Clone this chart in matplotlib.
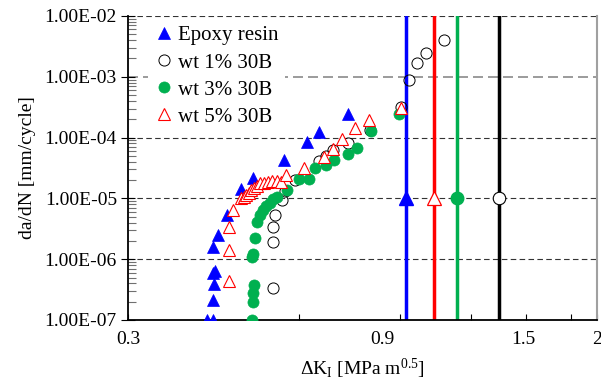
import matplotlib
matplotlib.use("Agg")
import matplotlib.pyplot as plt
import matplotlib.transforms as mtrans
from matplotlib.ticker import FixedLocator, FixedFormatter, LogLocator, NullFormatter

plt.rcParams['font.family'] = ['Liberation Serif', 'DejaVu Serif']
plt.rcParams['mathtext.fontset'] = 'custom'
plt.rcParams['mathtext.rm'] = 'Liberation Serif'
plt.rcParams['mathtext.it'] = 'Liberation Serif:italic'

# ---- data ----
epoxy_x = [0.413, 0.423, 0.423, 0.425, 0.423, 0.427, 0.423, 0.431, 0.448, 0.473, 0.497, 0.563, 0.619, 0.650, 0.730]
epoxy_y = [1e-7, 1e-7, 2.1e-7, 3.9e-7, 6.0e-7, 6.4e-7, 1.6e-6, 2.5e-6, 5.3e-6, 1.43e-5, 2.2e-5, 4.3e-5, 8.6e-5, 1.25e-4, 2.4e-4]

wt1_x = [0.540, 0.540, 0.540, 0.543, 0.560, 0.566, 0.590, 0.650, 0.667, 0.687, 0.729, 0.799, 0.904, 0.934, 0.967, 1.003, 1.077]
wt1_y = [3.4e-7, 1.95e-6, 3.4e-6, 5.3e-6, 9.4e-6, 1.3e-5, 1.97e-5, 4.1e-5, 5.0e-5, 6.25e-5, 8.2e-5, 1.33e-4, 3.15e-4, 8.9e-4, 1.67e-3, 2.5e-3, 4.1e-3]

wt3_x = [0.495, 0.497, 0.497, 0.499, 0.495, 0.497, 0.502, 0.506, 0.512, 0.518, 0.525, 0.532, 0.540, 0.548, 0.571, 0.598, 0.623, 0.640, 0.667, 0.689, 0.729, 0.758, 0.802, 0.897]
wt3_y = [1e-7, 1.98e-7, 2.83e-7, 3.77e-7, 1.09e-6, 1.24e-6, 2.23e-6, 4.1e-6, 5.3e-6, 6.4e-6, 7.5e-6, 8.5e-6, 9.7e-6, 1.07e-5, 1.35e-5, 2.1e-5, 2.1e-5, 3.16e-5, 3.54e-5, 4.28e-5, 5.4e-5, 6.7e-5, 1.3e-4, 2.4e-4]

wt5_x = [0.451, 0.451, 0.452, 0.458, 0.474, 0.479, 0.484, 0.489, 0.494, 0.500, 0.506, 0.512, 0.519, 0.528, 0.537, 0.548, 0.556, 0.569, 0.611, 0.664, 0.687, 0.713, 0.750, 0.795, 0.904]
wt5_y = [4.3e-7, 1.42e-6, 3.4e-6, 6.4e-6, 1.0e-5, 1.07e-5, 1.14e-5, 1.24e-5, 1.37e-5, 1.47e-5, 1.6e-5, 1.77e-5, 1.8e-5, 1.85e-5, 1.9e-5, 1.9e-5, 1.88e-5, 2.43e-5, 3.13e-5, 4.8e-5, 6.5e-5, 9.4e-5, 1.42e-4, 1.95e-4, 3.07e-4]

# threshold (vertical lines) values
thr_x = [0.925, 1.033, 1.134, 1.344]   # epoxy, 5%, 3%, 1%
thr_y = 1e-5

x_ticks = [0.3, 0.6, 0.9, 1.2, 1.5, 1.8, 2.0]
x_ticklabels = ['0.3', '', '0.9', '', '1.5', '', '2']
y_ticks = [1e-7, 1e-6, 1e-5, 1e-4, 1e-3, 1e-2]
y_ticklabels = ['1.00E-07', '1.00E-06', '1.00E-05', '1.00E-04', '1.00E-03', '1.00E-02']

BLUE = '#0000ff'
RED = '#ff0000'
GREEN = '#00b050'

fig = plt.figure(figsize=(6.01, 3.89), dpi=100)
ax = fig.add_axes([128/601, 1-320/389, (597-128)/601, (320-16)/389])
ax.set_xscale('log')
ax.set_yscale('log')
ax.set_xlim(0.3, 2.0)
ax.set_ylim(1e-7, 1e-2)

# grid lines
for yv in y_ticks[1:]:
    if yv == 1e-3:
        ax.axhline(yv, color='#8a8a8a', lw=1.2, ls=(0, (6, 3)), zorder=1)
    else:
        ax.axhline(yv, color='#333333', lw=0.8, ls=(0, (5, 3)), zorder=1)

# vertical lines
ax.axvline(thr_x[0], color=BLUE, lw=2.5, zorder=2)
ax.axvline(thr_x[1], color=RED, lw=2.5, zorder=2)
ax.axvline(thr_x[2], color=GREEN, lw=2.5, zorder=2)
ax.axvline(thr_x[3], color='black', lw=2.5, zorder=2)

ms_tri = 8.5
ms_cir = 8
ax.plot(epoxy_x, epoxy_y, ls='none', marker='^', ms=ms_tri, mfc=BLUE, mec=BLUE, mew=0.5, zorder=3, label='Epoxy resin')
ax.plot(wt1_x, wt1_y, ls='none', marker='o', ms=ms_cir, mfc='none', mec='black', mew=0.7, zorder=3, label='wt 1% 30B')
ax.plot(wt3_x, wt3_y, ls='none', marker='o', ms=ms_cir, mfc=GREEN, mec=GREEN, mew=0.5, zorder=4, label='wt 3% 30B')
ax.plot(wt5_x, wt5_y, ls='none', marker='^', ms=ms_tri, mfc='white', mec=RED, mew=0.8, zorder=5, label='wt 5% 30B')

# markers on the threshold lines
ax.plot([thr_x[0]], [thr_y], ls='none', marker='^', ms=ms_tri + 1, mfc=BLUE, mec=BLUE, zorder=6)
ax.plot([thr_x[1]], [thr_y], ls='none', marker='^', ms=ms_tri + 1, mfc='white', mec=RED, mew=0.9, zorder=6)
ax.plot([thr_x[2]], [thr_y], ls='none', marker='o', ms=ms_cir + 1, mfc=GREEN, mec=GREEN, zorder=6)
ax.plot([thr_x[3]], [thr_y], ls='none', marker='o', ms=ms_cir + 1, mfc='white', mec='black', mew=0.8, zorder=6)

# axes styling
ax.spines['top'].set_visible(False)
ax.spines['right'].set_color('#a0a0a0')
ax.spines['right'].set_linewidth(1.5)
ax.spines['left'].set_linewidth(1.3)
ax.spines['bottom'].set_linewidth(1.3)

ax.xaxis.set_major_locator(FixedLocator(x_ticks))
ax.xaxis.set_major_formatter(FixedFormatter(x_ticklabels))
ax.xaxis.set_minor_locator(FixedLocator([]))
ax.tick_params(axis='x', which='major', direction='in', length=4, width=0.8, labelsize=14, pad=8)

ax.yaxis.set_major_locator(FixedLocator(y_ticks))
ax.yaxis.set_major_formatter(FixedFormatter(y_ticklabels))
ax.yaxis.set_minor_locator(LogLocator(base=10, subs=range(2, 10)))
ax.yaxis.set_minor_formatter(NullFormatter())
ax.tick_params(axis='y', which='major', direction='inout', length=10, width=0.8, labelsize=14, pad=3)
ax.tick_params(axis='y', which='minor', direction='in', length=6, width=0.8, color='#707070')
ax.tick_params(right=False, top=False, which='both')

# slight horizontal offsets of some x tick labels as in the original
fig.canvas.draw()
shifts = {'0.9': -17, '1.5': -3}
for lbl in ax.get_xticklabels():
    s = shifts.get(lbl.get_text())
    if s:
        lbl.set_transform(lbl.get_transform() + mtrans.ScaledTranslation(s / 100, 0, fig.dpi_scale_trans))

ax.set_xlabel('ΔK$_{\\mathrm{I}}$ [MPa m$^{0.5}$]', fontsize=14, labelpad=6)
ax.set_ylabel('da/dN [mm/cycle]', fontsize=14, labelpad=6)

leg = ax.legend(loc='upper left', bbox_to_anchor=(0.042, 0.988), fontsize=15, frameon=True,
                facecolor='white', edgecolor='none', framealpha=1, numpoints=1,
                handlelength=1.0, handletextpad=0.15, labelspacing=0.36, borderaxespad=0.0,
                borderpad=0.3)
leg.set_zorder(7)

fig.savefig('out.png', dpi=100)
